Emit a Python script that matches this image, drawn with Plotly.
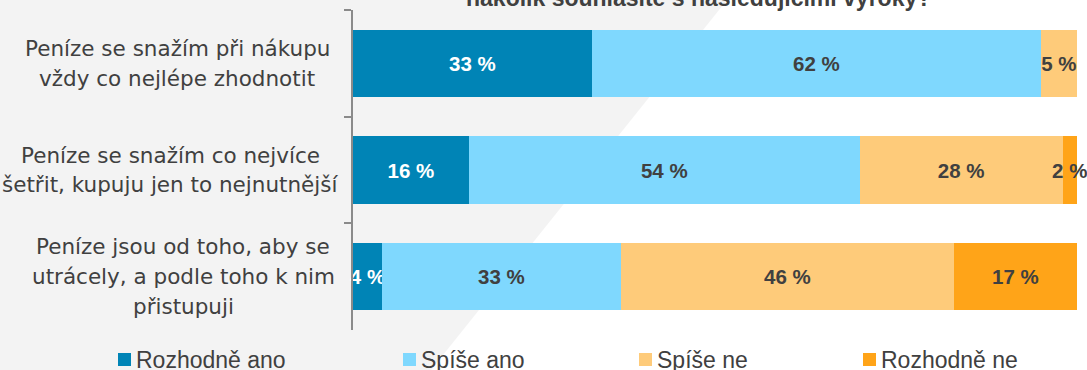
import plotly.graph_objects as go

# Survey statements (top to bottom) and answer shares in percent
statements = [
    ["Peníze se snažím při nákupu", "vždy co nejlépe zhodnotit"],
    ["Peníze se snažím co nejvíce", "šetřit, kupuju jen to nejnutnější"],
    ["Peníze jsou od toho, aby se", "utrácely, a podle toho k nim", "přistupuji"],
]
categories = ["s1", "s2", "s3"]
series_names = ["Rozhodně ano", "Spíše ano", "Spíše ne", "Rozhodně ne"]
rozhodne_ano = [33, 16, 4]
spise_ano = [62, 54, 33]
spise_ne = [5, 28, 46]
rozhodne_ne = [None, 2, 17]
title_text = "nakolik souhlasíte s následujícími výroky?"

series_values = [rozhodne_ano, spise_ano, spise_ne, rozhodne_ne]
colors = ["#0084B6", "#7FD8FE", "#FECB7A", "#FFA418"]
label_colors = ["#FFFFFF", "#404040", "#404040", "#404040"]

W, H = 1087, 370
L, R, T, B = 353, 10, 10, 40
PW, PH = W - L - R, H - T - B


def px_x(px):
    return (px - L) / PW


def px_y(py):
    return (H - B - py) / PH


fig = go.Figure()

for name, vals, col, tcol in zip(series_names, series_values, colors, label_colors):
    fig.add_trace(go.Bar(
        name=name,
        y=categories,
        x=vals,
        orientation="h",
        marker=dict(color=col, line=dict(width=0)),
        width=0.63,
        text=[f"{v} %" if v else "" for v in vals],
        textposition="inside",
        insidetextanchor="middle",
        constraintext="none",
        textangle=0,
        cliponaxis=False,
        insidetextfont=dict(family="Liberation Sans", size=20.5, color=tcol, weight="bold"),
        showlegend=False,
        hoverinfo="skip",
    ))

# Background: light gray panel with a slanted right edge
shapes = [dict(
    type="path", xref="paper", yref="paper", layer="below",
    path=(f"M {px_x(-5)},{px_y(-5)} L {px_x(731)},{px_y(-5)} "
          f"L {px_x(427)},{px_y(375)} L {px_x(-5)},{px_y(375)} Z"),
    fillcolor="#F3F3F3", line=dict(width=0),
)]

annotations = []

# Statement labels, each block centred and right-bounded next to the axis
block_centres = [177, 170, 183]
line_step = 0.28
for i, (lines, cx) in enumerate(zip(statements, block_centres)):
    n = len(lines)
    for j, line in enumerate(lines):
        annotations.append(dict(
            xref="paper", yref="y", x=px_x(cx), y=i + (j - (n - 1) / 2) * line_step,
            text=line, showarrow=False, xanchor="center", yanchor="middle",
            font=dict(family="DejaVu Sans", size=21.5, color="#404040"),
        ))

# Title line sitting at the top edge
annotations.append(dict(
    xref="paper", yref="paper", x=px_x(698), y=1, yanchor="bottom", yshift=-3,
    text=f"<b>{title_text}</b>", showarrow=False, xanchor="center",
    font=dict(family="Liberation Sans", size=23, color="#404040"),
))

# Legend row
legend_x = [118, 403, 639, 863]
for name, col, lx in zip(series_names, colors, legend_x):
    shapes.append(dict(
        type="rect", xref="paper", yref="paper",
        x0=px_x(lx), x1=px_x(lx + 13), y0=px_y(366), y1=px_y(353),
        fillcolor=col, line=dict(width=0),
    ))
    annotations.append(dict(
        xref="paper", yref="paper", x=px_x(lx + 16), y=px_y(359.5),
        text=name, showarrow=False, xanchor="left", yanchor="middle",
        font=dict(family="Liberation Sans", size=23, color="#404040"),
    ))

fig.update_layout(
    barmode="stack",
    width=W, height=H,
    margin=dict(l=L, r=R, t=T, b=B),
    paper_bgcolor="#FFFFFF",
    plot_bgcolor="rgba(0,0,0,0)",
    shapes=shapes,
    annotations=annotations,
    xaxis=dict(range=[0, 100], visible=False, fixedrange=True),
    yaxis=dict(
        range=[2.5, -0.5], type="category",
        showticklabels=False, tickson="boundaries", ticks="outside",
        ticklen=7, tickwidth=2, tickcolor="#8A8A8A",
        showline=True, linewidth=2, linecolor="#8A8A8A",
        showgrid=False, zeroline=False,
    ),
)

fig.write_html("out.html")
